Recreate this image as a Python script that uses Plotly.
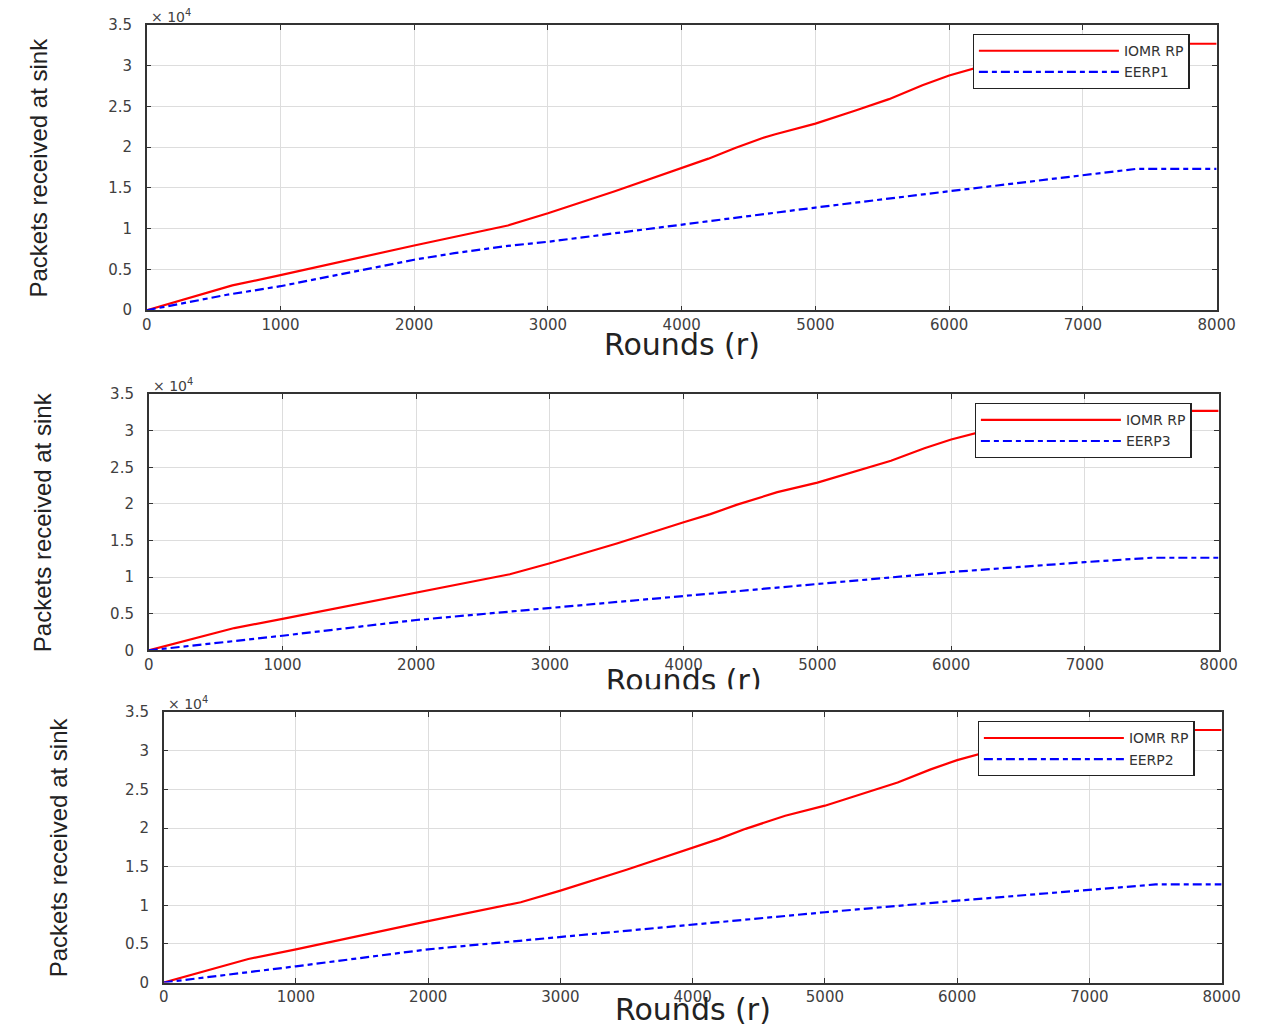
import plotly.graph_objects as go

W, H = 1268, 1028

# ---------------- data ----------------
rounds_iomr = [0, 640, 1000, 2000, 2700, 3000, 3500, 4000, 4200, 4400, 4600, 4700, 5000,
               5300, 5550, 5800, 6000, 6300, 6600, 7000, 7300, 8000]
packets_iomr = [0, 3050, 4300, 7950, 10400, 11900, 14600, 17500, 18600, 19900, 21100, 21600, 22900,
                24500, 25900, 27600, 28800, 30200, 31300, 32300, 32700, 32700]

rounds_eerp1 = [0, 600, 1000, 2000, 2300, 2700, 3000, 4000, 5000, 6000, 7000, 7400, 8000]
packets_eerp1 = [0, 1900, 2950, 6200, 7000, 7900, 8400, 10500, 12600, 14600, 16500, 17350, 17350]

rounds_eerp3 = [0, 1000, 2000, 3000, 4000, 5000, 6000, 7000, 7500, 8000]
packets_eerp3 = [0, 2000, 4150, 5800, 7400, 9100, 10700, 12050, 12650, 12650]

rounds_eerp2 = [0, 1000, 2000, 3000, 4000, 5000, 6000, 7000, 7500, 8000]
packets_eerp2 = [0, 2100, 4300, 5900, 7500, 9100, 10600, 12000, 12700, 12700]

x_ticks = [0, 1000, 2000, 3000, 4000, 5000, 6000, 7000, 8000]
y_ticks = [0, 5000, 10000, 15000, 20000, 25000, 30000, 35000]
y_tick_labels = ["0", "0.5", "1", "1.5", "2", "2.5", "3", "3.5"]

panels = [
    ("EERP1", rounds_eerp1, packets_eerp1),
    ("EERP3", rounds_eerp3, packets_eerp3),
    ("EERP2", rounds_eerp2, packets_eerp2),
]

# target page-pixel boxes of each axes: (left, right, top, bottom)
boxes = [(145, 1217, 23, 309), (147, 1219, 393, 650), (162, 1222, 712, 983)]

# measured page placement of the figure (offset and scale seen in the photographs)
CX, SX, CY, SY = 11.0, 0.983, 15.0, 0.985


def fx(v):
    return (v - CX) / SX


def fy(v):
    return (v - CY) / SY


def px(v):
    return fx(v) / W


def py(v):
    return 1 - fy(v) / H


fig = go.Figure()

tick_font = dict(family="DejaVu Sans", size=15, color="#404040")
axis_col = "#333333"
grid_col = "#dddddd"
dash_style = "9px,4px,5px,4px"

for i, (name, rx, ry) in enumerate(panels):
    n = i + 1
    xa = "x" if n == 1 else f"x{n}"
    ya = "y" if n == 1 else f"y{n}"
    lg = "legend" if n == 1 else f"legend{n}"
    fig.add_trace(go.Scatter(x=rounds_iomr, y=packets_iomr, mode="lines", name="IOMR RP",
                             line=dict(color="#ff0000", width=2.2), xaxis=xa, yaxis=ya, legend=lg))
    fig.add_trace(go.Scatter(x=rx, y=ry, mode="lines", name=name,
                             line=dict(color="#0000ff", width=2.2, dash=dash_style),
                             xaxis=xa, yaxis=ya, legend=lg))
    l, r, t, b = boxes[i]
    xkey = "xaxis" if n == 1 else f"xaxis{n}"
    ykey = "yaxis" if n == 1 else f"yaxis{n}"
    fig.layout[xkey] = dict(domain=[px(l), px(r)], range=[0, 8000], anchor=ya,
                            tickvals=x_ticks, ticktext=[str(v) for v in x_ticks],
                            ticks="inside", ticklen=5, tickcolor=axis_col, tickwidth=1.2,
                            showline=True, linecolor=axis_col, linewidth=1.5, mirror="allticks",
                            showgrid=True, gridcolor=grid_col, gridwidth=1.2,
                            zeroline=False, tickfont=tick_font, fixedrange=True)
    fig.layout[ykey] = dict(domain=[py(b), py(t)], range=[0, 35000], anchor=xa,
                            tickvals=y_ticks, ticktext=y_tick_labels,
                            ticks="inside", ticklen=5, tickcolor=axis_col, tickwidth=1.2,
                            ticklabelstandoff=10,
                            showline=True, linecolor=axis_col, linewidth=1.5, mirror="allticks",
                            showgrid=True, gridcolor=grid_col, gridwidth=1.2,
                            zeroline=False, tickfont=tick_font, fixedrange=True)
    fig.layout[lg] = dict(x=px(r - 27), xanchor="right", y=py(t + 9), yanchor="top",
                          bgcolor="white", bordercolor="#222222", borderwidth=1.2,
                          font=dict(family="DejaVu Sans", size=14, color="#333333"),
                          itemwidth=140, tracegroupgap=0)
    # exponent label
    fig.add_annotation(x=px(l + 3), y=py(t + 1), xref="paper", yref="paper",
                       xanchor="left", yanchor="bottom", showarrow=False,
                       text="× 10<sup>4</sup>", borderpad=0,
                       font=dict(family="DejaVu Sans", size=14, color="#404040"))
    # y axis title
    ycx = [37, 40, 56][i]
    fig.add_annotation(x=px(ycx), y=py((t + b) / 2), xref="paper", yref="paper",
                       xanchor="center", yanchor="middle", showarrow=False, textangle=-90,
                       text="Packets received at sink",
                       font=dict(family="Liberation Sans, Arial, sans-serif",
                                 size=24, color="#222222"))

# x axis titles (panels 1 and 3)
for (l, r, t, b), cy in [(boxes[0], 343), (boxes[2], 1010)]:
    fig.add_annotation(x=px((l + r) / 2), y=py(cy), xref="paper", yref="paper",
                       xanchor="center", yanchor="middle", showarrow=False,
                       text="Rounds (r)",
                       font=dict(family="DejaVu Sans", size=30, color="#222222"))

# panel 2 x title, partly hidden beneath panel 3 (clipped on a hidden axes)
clip_top, clip_bot = 662, 689
fig.add_trace(go.Scatter(x=[fx((boxes[1][0] + boxes[1][1]) / 2)], y=[H - fy(683)],
                         mode="text", text=["Rounds (r)"], textposition="middle center",
                         cliponaxis=True,
                         textfont=dict(family="DejaVu Sans", size=30, color="#222222"),
                         xaxis="x4", yaxis="y4", showlegend=False, hoverinfo="skip"))
fig.layout["xaxis4"] = dict(domain=[0, 1], range=[0, W], anchor="y4", visible=False, fixedrange=True)
fig.layout["yaxis4"] = dict(domain=[py(clip_bot), py(clip_top)],
                            range=[H - fy(clip_bot), H - fy(clip_top)],
                            anchor="x4", visible=False, fixedrange=True)

fig.update_layout(width=W, height=H, autosize=False,
                  margin=dict(l=0, r=0, t=0, b=0),
                  paper_bgcolor="white", plot_bgcolor="white",
                  showlegend=True)

fig.write_html("out.html")
